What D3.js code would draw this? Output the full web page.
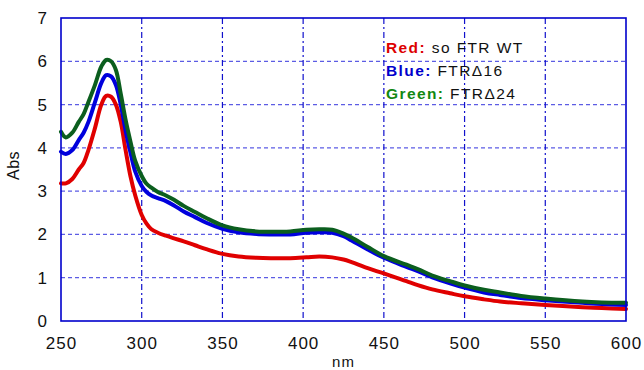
<!DOCTYPE html>
<html>
<head>
<meta charset="utf-8">
<script src="https://cdn.jsdelivr.net/npm/d3@7"></script>
<style>
  body { margin: 0; background: #fff; }
  svg { font-family: "Liberation Sans", Arial, sans-serif; }
</style>
</head>
<body>
<div id="chart"></div>
<script>
// wavelengths (nm)
const wavelengths = [250, 253, 257, 261, 264, 267, 271, 275, 278, 281, 284, 287, 290, 293, 296, 300, 303, 306, 310, 315, 320, 326, 333, 340, 350, 360, 371, 380, 392, 402, 410, 418, 425, 430, 440, 450, 464, 471, 480, 491, 500, 512, 522, 535, 550, 573, 585, 600];

const redAbs = [3.18, 3.18, 3.28, 3.5, 3.65, 3.95, 4.45, 5.0, 5.2, 5.18, 5.0, 4.6, 3.95, 3.35, 2.9, 2.45, 2.25, 2.12, 2.04, 1.97, 1.91, 1.84, 1.75, 1.66, 1.55, 1.49, 1.46, 1.45, 1.45, 1.47, 1.49, 1.47, 1.42, 1.36, 1.22, 1.1, 0.92, 0.83, 0.73, 0.64, 0.57, 0.5, 0.45, 0.41, 0.37, 0.32, 0.3, 0.28];
const blueAbs = [3.91, 3.86, 3.95, 4.18, 4.35, 4.6, 5.05, 5.5, 5.68, 5.65, 5.45, 5.0, 4.4, 3.9, 3.45, 3.12, 2.98, 2.9, 2.84, 2.77, 2.67, 2.53, 2.4, 2.27, 2.13, 2.05, 2.01, 2.0, 2.0, 2.04, 2.05, 2.04, 1.96, 1.86, 1.65, 1.46, 1.25, 1.15, 1.01, 0.87, 0.77, 0.66, 0.6, 0.53, 0.48, 0.42, 0.39, 0.37];
const greenAbs = [4.37, 4.24, 4.35, 4.6, 4.78, 5.06, 5.45, 5.88, 6.03, 6.0, 5.8, 5.25, 4.65, 4.15, 3.7, 3.35, 3.17, 3.08, 2.98, 2.9, 2.8, 2.66, 2.52, 2.38, 2.21, 2.12, 2.07, 2.06, 2.07, 2.11, 2.12, 2.11, 2.02, 1.93, 1.71, 1.5, 1.3, 1.2, 1.05, 0.92, 0.82, 0.72, 0.66, 0.58, 0.52, 0.45, 0.43, 0.42];

const xTicks = [250, 300, 350, 400, 450, 500, 550, 600];
const yTicks = [0, 1, 2, 3, 4, 5, 6, 7];

const legendLabels = [
    {key: 'Red:', text: 'so FTR WT', color: '#dd0000'},
    {key: 'Blue:', text: 'FTR\u039416', color: '#0000cc'},
    {key: 'Green:', text: 'FTR\u039424', color: '#118811'}
];

// ... chart area
const W = 644, H = 370;
const margin = {top: 18, right: 18, bottom: 49, left: 61};
const width = W - margin.left - margin.right;
const height = H - margin.top - margin.bottom;

const x = d3.scaleLinear().domain([250, 600]).range([0, width]);
const y = d3.scaleLinear().domain([0, 7]).range([height, 0]);

const svg = d3.select('#chart').append('svg')
    .attr('width', W)
    .attr('height', H)
    .append('g')
    .attr('transform', 'translate(' + margin.left + ',' + margin.top + ')');

// ... grid
svg.append('g')
    .selectAll('line')
    .data(yTicks.slice(1, -1))
    .enter().append('line')
    .attr('x1', 0).attr('x2', width)
    .attr('y1', d => y(d)).attr('y2', d => y(d))
    .attr('stroke', '#3333dd')
    .attr('stroke-width', 1.2)
    .attr('stroke-opacity', 0.8)
    .attr('stroke-dasharray', '4,3');

svg.append('g')
    .selectAll('line')
    .data(xTicks.slice(1, -1))
    .enter().append('line')
    .attr('x1', d => x(d)).attr('x2', d => x(d))
    .attr('y1', 0).attr('y2', height)
    .attr('stroke', '#1111cc')
    .attr('stroke-width', 1.2)
    .attr('stroke-dasharray', '6,3,2,3');

// ... axes (labels only, the frame is drawn separately)
const xAxis = d3.axisBottom(x)
    .tickValues(xTicks)
    .tickSize(0)
    .tickPadding(16)
    .tickFormat(d3.format('d'));

const yAxis = d3.axisLeft(y)
    .tickValues(yTicks)
    .tickSize(0)
    .tickPadding(14)
    .tickFormat(d3.format('d'));

const gx = svg.append('g')
    .attr('transform', 'translate(0,' + height + ')')
    .call(xAxis);
gx.select('.domain').remove();
gx.selectAll('text')
    .attr('font-size', 17)
    .attr('letter-spacing', 1)
    .attr('fill', '#111');

const gy = svg.append('g').call(yAxis);
gy.select('.domain').remove();
gy.selectAll('text')
    .attr('font-size', 17)
    .attr('fill', '#111');

svg.append('text')
    .attr('x', width / 2)
    .attr('y', height + 46)
    .attr('text-anchor', 'middle')
    .attr('font-size', 15)
    .attr('letter-spacing', 1)
    .attr('fill', '#111')
    .text('nm');

svg.append('text')
    .attr('transform', 'translate(-42,' + (height / 2 - 4) + ') rotate(-90)')
    .attr('text-anchor', 'middle')
    .attr('font-size', 16)
    .attr('letter-spacing', 0.5)
    .attr('fill', '#111')
    .text('Abs');

// ... curves
const series = [
    {values: redAbs, color: '#e00000'},
    {values: blueAbs, color: '#0000dd'},
    {values: greenAbs, color: '#0b5e1e'}
];

const line = d3.line()
    .x((d, i) => x(wavelengths[i]))
    .y(d => y(d))
    .curve(d3.curveCatmullRom.alpha(0.5));

svg.append('g')
    .selectAll('path')
    .data(series)
    .enter().append('path')
    .attr('d', d => line(d.values))
    .attr('fill', 'none')
    .attr('stroke', d => d.color)
    .attr('stroke-width', 4)
    .attr('stroke-linejoin', 'round')
    .attr('stroke-linecap', 'round');

// ... frame
svg.append('rect')
    .attr('x', 0).attr('y', 0)
    .attr('width', width).attr('height', height)
    .attr('fill', 'none')
    .attr('stroke', '#0000cc')
    .attr('stroke-width', 1.6);

// ... legend
const legend = svg.append('g')
    .attr('transform', 'translate(' + (386 - margin.left) + ',' + (52.5 - margin.top) + ')');

legend.selectAll('text')
    .data(legendLabels)
    .enter().append('text')
    .attr('y', (d, i) => i * 23.3)
    .attr('font-size', 15.5)
    .attr('letter-spacing', 1.4)
    .each(function (d) {
        const t = d3.select(this);
        t.append('tspan')
            .attr('font-weight', 'bold')
            .attr('fill', d.color)
            .text(d.key + ' ');
        t.append('tspan')
            .attr('fill', '#111')
            .text(d.text);
    });
</script>
</body>
</html>
